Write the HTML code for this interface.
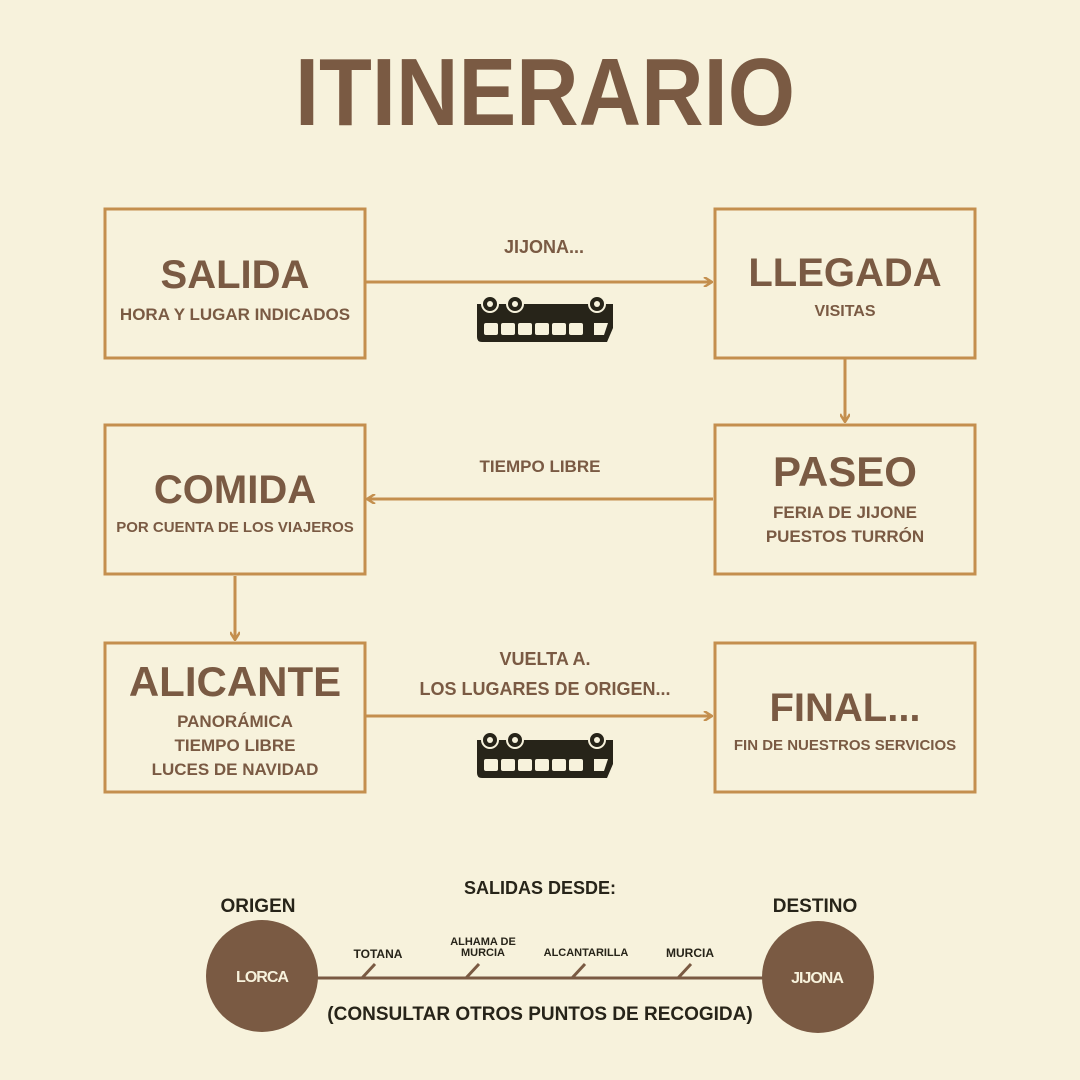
<!DOCTYPE html>
<html><head><meta charset="utf-8"><style>
html,body{margin:0;padding:0;background:#f7f2dc}
svg{display:block}
text{font-family:"Liberation Sans",sans-serif;font-weight:bold}
</style></head><body>
<svg width="1080" height="1080" viewBox="0 0 1080 1080" xmlns="http://www.w3.org/2000/svg">
<rect width="1080" height="1080" fill="#f7f2dc"/>
<defs>
<marker id="ah" markerWidth="10" markerHeight="10" refX="8" refY="5" orient="auto" markerUnits="userSpaceOnUse">
<path d="M1,0 L9,5 L1,10" fill="none" stroke="#c48f4e" stroke-width="2.5"/>
</marker>
<g id="bus">
<path d="M477,304 H613 V328 L607,342 H482 Q477,342 477,337 Z" fill="#272419"/>
<circle cx="490" cy="304" r="8" fill="#272419" stroke="#f7f2dc" stroke-width="2"/>
<circle cx="490" cy="304" r="3" fill="#f7f2dc"/>
<circle cx="515" cy="304" r="8" fill="#272419" stroke="#f7f2dc" stroke-width="2"/>
<circle cx="515" cy="304" r="3" fill="#f7f2dc"/>
<circle cx="597" cy="304" r="8" fill="#272419" stroke="#f7f2dc" stroke-width="2"/>
<circle cx="597" cy="304" r="3" fill="#f7f2dc"/>
<g fill="#f7f2dc">
<rect x="484" y="323" width="14" height="12" rx="2"/>
<rect x="501" y="323" width="14" height="12" rx="2"/>
<rect x="518" y="323" width="14" height="12" rx="2"/>
<rect x="535" y="323" width="14" height="12" rx="2"/>
<rect x="552" y="323" width="14" height="12" rx="2"/>
<rect x="569" y="323" width="14" height="12" rx="2"/>
<path d="M594,323 H608 L604,335 H594 Z"/>
</g>
</g>
</defs>

<text x="545" y="125" font-size="96" fill="#7a5a43" text-anchor="middle" textLength="500" lengthAdjust="spacingAndGlyphs">ITINERARIO</text>

<g fill="none" stroke="#c48f4e" stroke-width="3">
<rect x="105" y="209" width="260" height="149"/>
<rect x="715" y="209" width="260" height="149"/>
<rect x="105" y="425" width="260" height="149"/>
<rect x="715" y="425" width="260" height="149"/>
<rect x="105" y="643" width="260" height="149"/>
<rect x="715" y="643" width="260" height="149"/>
<line x1="366" y1="282" x2="711" y2="282" marker-end="url(#ah)"/>
<line x1="845" y1="359" x2="845" y2="421" marker-end="url(#ah)"/>
<line x1="713" y1="499" x2="368" y2="499" marker-end="url(#ah)"/>
<line x1="235" y1="576" x2="235" y2="639" marker-end="url(#ah)"/>
<line x1="366" y1="716" x2="711" y2="716" marker-end="url(#ah)"/>
</g>

<g fill="#7a5a43" text-anchor="middle">
<text x="235" y="288" font-size="40">SALIDA</text>
<text x="235" y="320" font-size="17">HORA Y LUGAR INDICADOS</text>
<text x="845" y="286" font-size="40">LLEGADA</text>
<text x="845" y="316" font-size="16">VISITAS</text>
<text x="235" y="503" font-size="40">COMIDA</text>
<text x="235" y="532" font-size="15">POR CUENTA DE LOS VIAJEROS</text>
<text x="845" y="486" font-size="42">PASEO</text>
<text x="845" y="518" font-size="17">FERIA DE JIJONE</text>
<text x="845" y="542" font-size="17">PUESTOS TURRÓN</text>
<text x="235" y="696" font-size="42">ALICANTE</text>
<text x="235" y="727" font-size="17">PANORÁMICA</text>
<text x="235" y="751" font-size="17">TIEMPO LIBRE</text>
<text x="235" y="775" font-size="17">LUCES DE NAVIDAD</text>
<text x="845" y="721" font-size="40">FINAL...</text>
<text x="845" y="750" font-size="15">FIN DE NUESTROS SERVICIOS</text>
<text x="544" y="253" font-size="18">JIJONA...</text>
<text x="540" y="472" font-size="17">TIEMPO LIBRE</text>
<text x="545" y="665" font-size="18">VUELTA A.</text>
<text x="545" y="695" font-size="18">LOS LUGARES DE ORIGEN...</text>
</g>

<use href="#bus"/>
<use href="#bus" y="436"/>

<g fill="#272419" text-anchor="middle">
<text x="540" y="894" font-size="18">SALIDAS DESDE:</text>
<text x="258" y="912" font-size="19">ORIGEN</text>
<text x="815" y="912" font-size="19">DESTINO</text>
<text x="378" y="958" font-size="12">TOTANA</text>
<text x="483" y="945" font-size="11">ALHAMA DE</text>
<text x="483" y="956" font-size="11">MURCIA</text>
<text x="586" y="956" font-size="11">ALCANTARILLA</text>
<text x="690" y="957" font-size="12">MURCIA</text>
<text x="540" y="1020" font-size="19">(CONSULTAR OTROS PUNTOS DE RECOGIDA)</text>
</g>
<line x1="310" y1="978" x2="770" y2="978" stroke="#7a5a43" stroke-width="3"/>
<g stroke="#7a5a43" stroke-width="3">
<line x1="362" y1="978" x2="375" y2="964"/>
<line x1="466" y1="978" x2="479" y2="964"/>
<line x1="572" y1="978" x2="585" y2="964"/>
<line x1="678" y1="978" x2="691" y2="964"/>
</g>
<circle cx="262" cy="976" r="56" fill="#7a5a43"/>
<circle cx="818" cy="977" r="56" fill="#7a5a43"/>
<text x="262" y="982" font-size="16" fill="#f7f2dc" text-anchor="middle" letter-spacing="-1">LORCA</text>
<text x="817" y="983" font-size="16" fill="#f7f2dc" text-anchor="middle" letter-spacing="-1">JIJONA</text>
</svg>
</body></html>
